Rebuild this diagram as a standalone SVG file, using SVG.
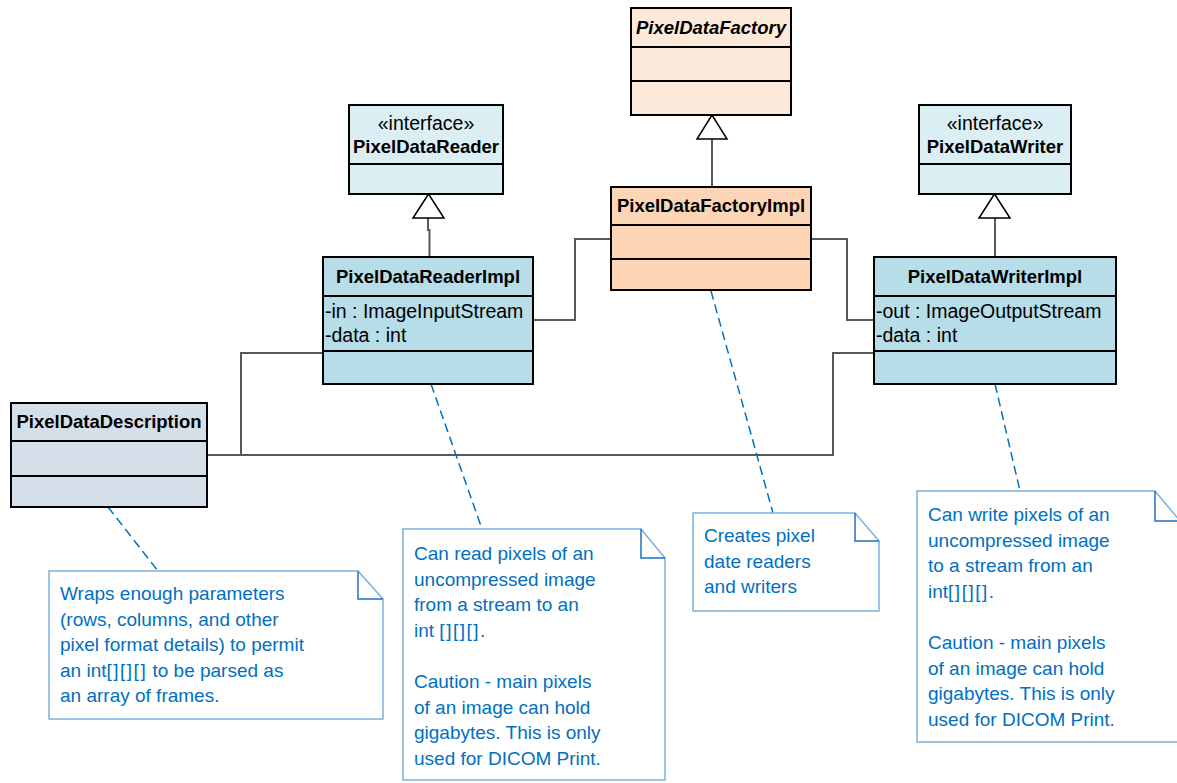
<svg xmlns="http://www.w3.org/2000/svg" width="1177" height="783" viewBox="0 0 1177 783">
<style>
.box{stroke:#000;stroke-width:2}
.div{stroke:#000;stroke-width:2}
.name{font-family:"Liberation Sans",Arial,sans-serif;font-weight:bold;font-size:18.5px;fill:#000;text-anchor:middle}
.ster{font-family:"Liberation Sans",Arial,sans-serif;font-size:19.5px;fill:#000;text-anchor:middle}
.attr{font-family:"Liberation Sans",Arial,sans-serif;font-size:19.5px;fill:#000}
.conn{fill:none;stroke:#595959;stroke-width:2}
.gen{fill:#fff;stroke:#000;stroke-width:1.5}
.note{fill:#fff;stroke:#7ab0de;stroke-width:1.5}
.fold{fill:none;stroke:#1f70c0;stroke-width:1.5}
.ntext{font-family:"Liberation Sans",Arial,sans-serif;font-size:19px;fill:#0070c0}
.br{letter-spacing:1.5px}
.anchor{fill:none;stroke:#0070c0;stroke-width:1.5;stroke-dasharray:9 5}
</style>
<rect width="1177" height="783" fill="#fff"/>

<g id="connectors">
  <path class="conn" d="M712 139 V187"/>
  <path class="conn" d="M428 218 V230 H429.5 V257"/>
  <path class="conn" d="M995 218 V257"/>
  <path class="conn" d="M533 320 H575 V239 H611"/>
  <path class="conn" d="M811 239 H847 V320 H874"/>
  <path class="conn" d="M207 455 H833 V353 H874"/>
  <path class="conn" d="M241 455 V353 H323"/>
  <path class="gen" d="M712 115 L727 139 H697 Z"/>
  <path class="gen" d="M428.5 194 L444 218 H413 Z"/>
  <path class="gen" d="M994.5 194 L1010 218 H979 Z"/>
  <path class="anchor" d="M108 507 L158 571"/>
  <path class="anchor" d="M431 384 L482 529"/>
  <path class="anchor" d="M711 291 L773 513"/>
  <path class="anchor" d="M995 384 L1020 491"/>
</g>

<g id="PixelDataFactory">
  <rect class="box" x="631" y="8" width="160" height="107" fill="#fde9d9"/>
  <line class="div" x1="631" y1="47" x2="791" y2="47"/>
  <line class="div" x1="631" y1="81" x2="791" y2="81"/>
  <text class="name" x="711" y="34" font-style="italic">PixelDataFactory</text>
</g>

<g id="PixelDataFactoryImpl">
  <rect class="box" x="611" y="187" width="200" height="103" fill="#fbd5b5"/>
  <line class="div" x1="611" y1="225" x2="811" y2="225"/>
  <line class="div" x1="611" y1="259" x2="811" y2="259"/>
  <text class="name" x="711" y="212">PixelDataFactoryImpl</text>
</g>

<g id="PixelDataReader">
  <rect class="box" x="349" y="105" width="154" height="89" fill="#daeef3"/>
  <line class="div" x1="349" y1="164" x2="503" y2="164"/>
  <text class="ster" x="426" y="130">«interface»</text>
  <text class="name" x="426" y="153">PixelDataReader</text>
</g>

<g id="PixelDataReaderImpl">
  <rect class="box" x="323" y="257" width="210" height="127" fill="#b7dde8"/>
  <line class="div" x1="323" y1="296" x2="533" y2="296"/>
  <line class="div" x1="323" y1="351" x2="533" y2="351"/>
  <text class="name" x="428" y="283">PixelDataReaderImpl</text>
  <text class="attr" x="325" y="318">-in : ImageInputStream</text>
  <text class="attr" x="325" y="342">-data : int</text>
</g>

<g id="PixelDataWriter">
  <rect class="box" x="919" y="105" width="152" height="89" fill="#daeef3"/>
  <line class="div" x1="919" y1="164" x2="1071" y2="164"/>
  <text class="ster" x="995" y="130">«interface»</text>
  <text class="name" x="995" y="153">PixelDataWriter</text>
</g>

<g id="PixelDataWriterImpl">
  <rect class="box" x="874" y="257" width="242" height="127" fill="#b7dde8"/>
  <line class="div" x1="874" y1="296" x2="1116" y2="296"/>
  <line class="div" x1="874" y1="351" x2="1116" y2="351"/>
  <text class="name" x="995" y="283">PixelDataWriterImpl</text>
  <text class="attr" x="876" y="318">-out : ImageOutputStream</text>
  <text class="attr" x="876" y="342">-data : int</text>
</g>

<g id="PixelDataDescription">
  <rect class="box" x="11" y="403" width="196" height="104" fill="#d5dfea"/>
  <line class="div" x1="11" y1="441" x2="207" y2="441"/>
  <line class="div" x1="11" y1="476" x2="207" y2="476"/>
  <text class="name" x="109" y="428">PixelDataDescription</text>
</g>

<g id="note-description">
  <path class="note" d="M49 571 H358 L383 599 V719 H49 Z"/>
  <path class="fold" d="M358 571 V599 H383"/>
  <text class="ntext" x="60" y="600">Wraps enough parameters</text>
  <text class="ntext" x="60" y="626">(rows, columns, and other</text>
  <text class="ntext" x="60" y="651">pixel format details) to permit</text>
  <text class="ntext" x="60" y="677">an int<tspan class="br">[][][]</tspan> to be parsed as</text>
  <text class="ntext" x="60" y="702">an array of frames.</text>
</g>

<g id="note-reader">
  <path class="note" d="M403 529 H641 L665 558 V780 H403 Z"/>
  <path class="fold" d="M641 529 V558 H665"/>
  <text class="ntext" x="414" y="560">Can read pixels of an</text>
  <text class="ntext" x="414" y="585.5">uncompressed image</text>
  <text class="ntext" x="414" y="611">from a stream to an</text>
  <text class="ntext" x="414" y="636.5">int <tspan class="br">[][][]</tspan>.</text>
  <text class="ntext" x="414" y="688">Caution - main pixels</text>
  <text class="ntext" x="414" y="713.5">of an image can hold</text>
  <text class="ntext" x="414" y="739">gigabytes. This is only</text>
  <text class="ntext" x="414" y="764.5">used for DICOM Print.</text>
</g>

<g id="note-factory">
  <path class="note" d="M693 513 H855 L879 541 V611 H693 Z"/>
  <path class="fold" d="M855 513 V541 H879"/>
  <text class="ntext" x="704" y="542">Creates pixel</text>
  <text class="ntext" x="704" y="567.5">date readers</text>
  <text class="ntext" x="704" y="593">and writers</text>
</g>

<g id="note-writer">
  <path class="note" d="M917 491 H1155 L1180 521 V742 H917 Z"/>
  <path class="fold" d="M1155 491 V521 H1180"/>
  <text class="ntext" x="928" y="521">Can write pixels of an</text>
  <text class="ntext" x="928" y="546.5">uncompressed image</text>
  <text class="ntext" x="928" y="572">to a stream from an</text>
  <text class="ntext" x="928" y="597.5">int<tspan class="br">[][][]</tspan>.</text>
  <text class="ntext" x="928" y="649">Caution - main pixels</text>
  <text class="ntext" x="928" y="674.5">of an image can hold</text>
  <text class="ntext" x="928" y="700">gigabytes. This is only</text>
  <text class="ntext" x="928" y="725.5">used for DICOM Print.</text>
</g>
</svg>
